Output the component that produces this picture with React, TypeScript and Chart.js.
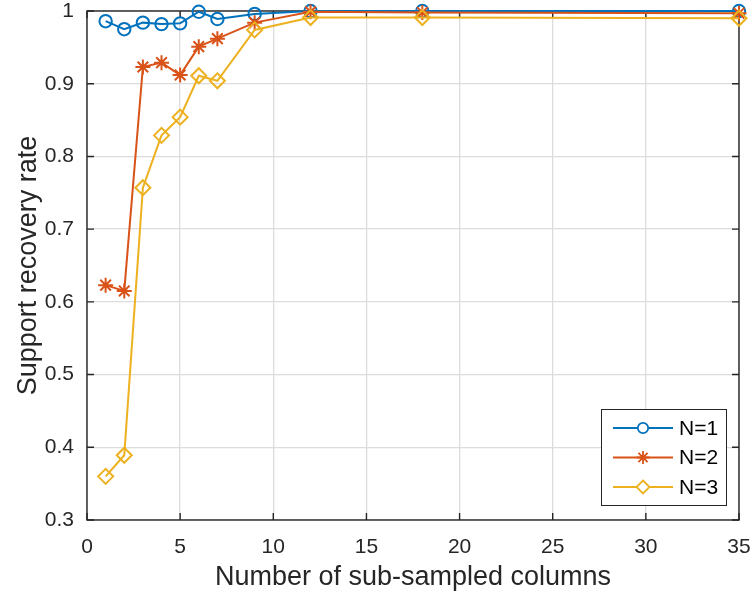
import React, { useEffect, useRef } from "react";
import { Chart, registerables } from "chart.js";

Chart.register(...registerables);

const xValues = [1, 2, 3, 4, 5, 6, 7, 9, 12, 18, 35];
const seriesN1 = [0.986, 0.975, 0.984, 0.982, 0.983, 0.999, 0.989, 0.996, 1.0, 1.0, 1.0];
const seriesN2 = [0.623, 0.615, 0.923, 0.929, 0.912, 0.951, 0.962, 0.984, 0.999, 0.998, 0.997];
const seriesN3 = [0.36, 0.389, 0.757, 0.829, 0.854, 0.911, 0.904, 0.974, 0.991, 0.991, 0.99];
const seriesLabels = ["N=1", "N=2", "N=3"];
const seriesColors = ["#0072BD", "#D95319", "#EDB120"];
const seriesMarkers = ["circle", "star", "rectRot"];
const markerRadii = [6.2, 7.5, 7.5];
const xTicks = [0, 5, 10, 15, 20, 25, 30, 35];
const yTicks = [0.3, 0.4, 0.5, 0.6, 0.7, 0.8, 0.9, 1];
const xTitle = "Number of sub-sampled columns";
const yTitle = "Support recovery rate";

const FONT = "'Liberation Sans', Arial, Helvetica, sans-serif";
const AXIS_COLOR = "#262626";

const framePlugin = {
  id: "matlabFrame",
  beforeDatasetsDraw(chart: any) {
    const { ctx, chartArea: a, scales } = chart;
    const xs = scales.x;
    const ys = scales.y;
    ctx.save();
    ctx.strokeStyle = AXIS_COLOR;
    ctx.lineWidth = 1.4;
    ctx.strokeRect(a.left, a.top, a.right - a.left, a.bottom - a.top);
    const tl = 7;
    ctx.beginPath();
    for (const v of xTicks) {
      const px = xs.getPixelForValue(v);
      ctx.moveTo(px, a.bottom);
      ctx.lineTo(px, a.bottom - tl);
      ctx.moveTo(px, a.top);
      ctx.lineTo(px, a.top + tl);
    }
    for (const v of yTicks) {
      const py = ys.getPixelForValue(v);
      ctx.moveTo(a.left, py);
      ctx.lineTo(a.left + tl, py);
      ctx.moveTo(a.right, py);
      ctx.lineTo(a.right - tl, py);
    }
    ctx.stroke();
    ctx.restore();
  },
  afterDraw(chart: any) {
    const { ctx, chartArea: a } = chart;
    const boxW = 125;
    const boxH = 96;
    const bx = a.right - 13 - boxW;
    const by = a.bottom - 15 - boxH;
    ctx.save();
    ctx.fillStyle = "#ffffff";
    ctx.fillRect(bx, by, boxW, boxH);
    ctx.strokeStyle = AXIS_COLOR;
    ctx.lineWidth = 1;
    ctx.strokeRect(bx + 0.5, by + 0.5, boxW, boxH);
    seriesLabels.forEach((label, i) => {
      const cy = by + 19 + i * 29.5;
      const x0 = bx + 12;
      const x1 = bx + 72;
      ctx.strokeStyle = seriesColors[i];
      ctx.lineWidth = 2;
      ctx.beginPath();
      ctx.moveTo(x0, cy);
      ctx.lineTo(x1, cy);
      ctx.stroke();
      ctx.fillStyle = "#ffffff";
      ctx.lineWidth = 1.8;
      const cx = (x0 + x1) / 2;
      const r = markerRadii[i] - 1;
      ctx.beginPath();
      if (seriesMarkers[i] === "circle") {
        ctx.arc(cx, cy, r, 0, Math.PI * 2);
        ctx.fill();
        ctx.stroke();
      } else if (seriesMarkers[i] === "star") {
        for (let k = 0; k < 4; k++) {
          const ang = (k * Math.PI) / 4;
          ctx.moveTo(cx - r * Math.cos(ang), cy - r * Math.sin(ang));
          ctx.lineTo(cx + r * Math.cos(ang), cy + r * Math.sin(ang));
        }
        ctx.stroke();
      } else {
        ctx.moveTo(cx, cy - r);
        ctx.lineTo(cx + r, cy);
        ctx.lineTo(cx, cy + r);
        ctx.lineTo(cx - r, cy);
        ctx.closePath();
        ctx.fill();
        ctx.stroke();
      }
      ctx.fillStyle = "#000000";
      ctx.font = `21px ${FONT}`;
      ctx.textAlign = "left";
      ctx.textBaseline = "middle";
      ctx.fillText(label, bx + 78, cy + 1);
    });
    ctx.restore();
  },
};

export default function App() {
  const canvasRef = useRef<HTMLCanvasElement | null>(null);

  useEffect(() => {
    document.body.style.margin = "0";
    const canvas = canvasRef.current;
    if (!canvas) return;
    const seriesData = [seriesN1, seriesN2, seriesN3];
    const chart = new Chart(canvas, {
      type: "line",
      data: {
        datasets: seriesData.map((vals, i) => ({
          label: seriesLabels[i],
          data: xValues.map((x, j) => ({ x, y: vals[j] })),
          borderColor: seriesColors[i],
          backgroundColor: "transparent",
          pointBackgroundColor: "transparent",
          pointBorderColor: seriesColors[i],
          pointStyle: seriesMarkers[i] as any,
          pointRadius: markerRadii[i],
          pointBorderWidth: 2,
          borderWidth: 2,
          tension: 0,
          fill: false,
          clip: false as any,
          order: 3 - i,
        })),
      },
      options: {
        responsive: false,
        animation: false,
        devicePixelRatio: 1,
        layout: { padding: { top: 11, right: 12, left: 0, bottom: 0 } },
        plugins: {
          legend: { display: false },
          tooltip: { enabled: false },
        },
        scales: {
          x: {
            type: "linear",
            min: 0,
            max: 35,
            afterFit: (s: any) => {
              s.height = 81;
              s.paddingLeft = 0;
              s.paddingRight = 0;
            },
            afterBuildTicks: (s: any) => {
              s.ticks = xTicks.map((v) => ({ value: v }));
            },
            grid: { color: "#dcdcdc", lineWidth: 1.3, drawTicks: false },
            border: { display: false },
            ticks: {
              padding: 15,
              color: AXIS_COLOR,
              font: { family: FONT, size: 21 },
              maxRotation: 0,
              callback: (v: any) => String(v),
            },
            title: {
              display: true,
              text: xTitle,
              color: AXIS_COLOR,
              font: { family: FONT, size: 27 },
              padding: { top: 0, bottom: 7 },
            },
          },
          y: {
            type: "linear",
            min: 0.3,
            max: 1,
            afterFit: (s: any) => {
              s.width = 87;
              s.paddingTop = 0;
              s.paddingBottom = 0;
            },
            afterBuildTicks: (s: any) => {
              s.ticks = yTicks.map((v) => ({ value: v }));
            },
            grid: { color: "#dcdcdc", lineWidth: 1.3, drawTicks: false },
            border: { display: false },
            ticks: {
              padding: 13,
              color: AXIS_COLOR,
              font: { family: FONT, size: 21 },
              callback: (v: any) => String(Math.round(v * 10) / 10),
            },
            title: {
              display: true,
              text: yTitle,
              color: AXIS_COLOR,
              font: { family: FONT, size: 27 },
              padding: { top: 12, bottom: 0 },
            },
          },
        },
      },
      plugins: [framePlugin],
    });
    return () => chart.destroy();
  }, []);

  return (
    <div style={{ width: 751, height: 601, background: "#ffffff" }}>
      <canvas ref={canvasRef} width={751} height={601} />
    </div>
  );
}
